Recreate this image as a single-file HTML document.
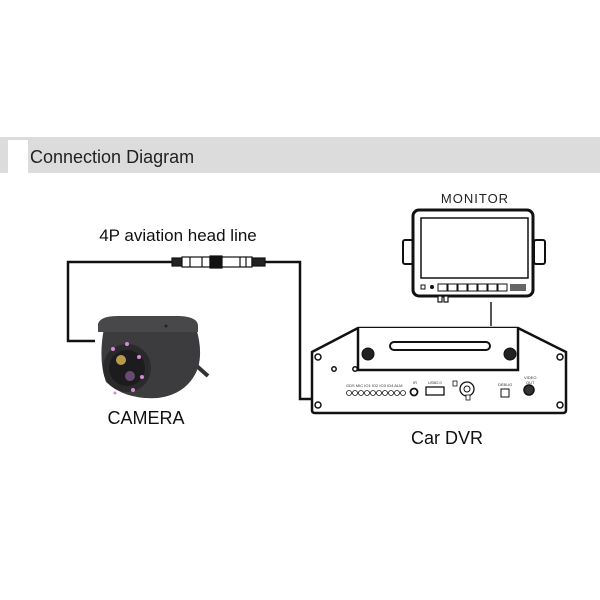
<!DOCTYPE html>
<html><head><style>
html,body{margin:0;padding:0;background:#fff;}
svg{display:block}
</style></head><body>
<svg width="600" height="600" viewBox="0 0 600 600" xmlns="http://www.w3.org/2000/svg" font-family="Liberation Sans, sans-serif">
<rect x="0" y="137" width="600" height="36" fill="#dcdcdc"/>
<rect x="8" y="140" width="20" height="36" fill="#fff"/>
<text x="30" y="163" font-size="18" fill="#222">Connection Diagram</text>

<text x="178" y="241" font-size="17" text-anchor="middle" fill="#111">4P aviation head line</text>
<text x="146" y="424" font-size="18" text-anchor="middle" fill="#111">CAMERA</text>
<text x="475" y="203" font-size="13" text-anchor="middle" fill="#222" letter-spacing="1">MONITOR</text>
<text x="447" y="444" font-size="18" text-anchor="middle" fill="#111">Car DVR</text>

<!-- cable -->
<g fill="none" stroke="#111" stroke-width="2.5">
<polyline points="95,341 68,341 68,262 172,262"/>
<polyline points="265,262 300,262 300,399 314,399"/>
</g>
<g stroke="#111" stroke-width="1.2" fill="#fff">
<rect x="172" y="258" width="10" height="8" fill="#222"/>
<rect x="182" y="257" width="28" height="10"/>
<line x1="190" y1="257" x2="190" y2="267"/><line x1="202" y1="257" x2="202" y2="267"/>
<rect x="210" y="256" width="12" height="12" fill="#111"/>
<rect x="222" y="257" width="30" height="10"/>
<line x1="240" y1="257" x2="240" y2="267"/><line x1="246" y1="257" x2="246" y2="267"/>
<rect x="252" y="258" width="13" height="8" fill="#222"/>
</g>

<!-- camera -->
<path d="M190,360 L208,376" stroke="#333" stroke-width="4"/>
<path d="M104,328 L196,328 Q203,350 198,368 Q188,394 158,398 Q125,400 106,382 Q98,360 104,328 Z" fill="#3c3c3e"/>
<path d="M98,324 Q100,316 118,316 L180,316 Q198,317 198,326 L198,332 L98,332 Z" fill="#48484a"/>
<circle cx="127" cy="368" r="24" fill="#2a2a2c"/>
<circle cx="127" cy="368" r="18" fill="#1c1c1e"/>
<circle cx="121" cy="360" r="5" fill="#b89a4a"/>
<circle cx="130" cy="376" r="5" fill="#6a4a70"/>
<g fill="#d58ad8"><circle cx="113" cy="349" r="2"/><circle cx="127" cy="344" r="2"/><circle cx="139" cy="357" r="2"/><circle cx="142" cy="377" r="2"/><circle cx="133" cy="390" r="2"/><circle cx="115" cy="393" r="1.5"/></g>
<circle cx="166" cy="326" r="1.5" fill="#222"/>

<!-- monitor -->
<g stroke="#111" fill="#fff">
<rect x="403" y="240" width="10" height="24" rx="2" stroke-width="2"/>
<rect x="534" y="240" width="11" height="24" rx="2" stroke-width="2"/>
<rect x="413" y="210" width="120" height="86" rx="6" stroke-width="3"/>
<rect x="421" y="218" width="107" height="60" stroke-width="1.5"/>
<rect x="438" y="296" width="4" height="6" stroke-width="1.2"/>
<rect x="444" y="296" width="4" height="6" stroke-width="1.2"/>
<g stroke-width="1"><rect x="421" y="285" width="4" height="4"/><circle cx="432" cy="287" r="1.5" fill="#111"/>
<rect x="438" y="284" width="9" height="7"/><rect x="448" y="284" width="9" height="7"/><rect x="458" y="284" width="9" height="7"/><rect x="468" y="284" width="9" height="7"/><rect x="478" y="284" width="9" height="7"/><rect x="488" y="284" width="9" height="7"/><rect x="498" y="284" width="9" height="7"/></g>
<rect x="510" y="284" width="16" height="7" fill="#666" stroke="none"/>
</g>
<line x1="491" y1="302" x2="491" y2="326" stroke="#555" stroke-width="2"/>

<!-- DVR -->
<g stroke="#111" fill="#fff">
<path d="M312,352 L358,328 L518,328 L566,352 L566,410 Q566,413 563,413 L315,413 Q312,413 312,410 Z" stroke-width="2.5"/>
<path d="M358,328 L358,370 L518,370 L518,328" stroke-width="2.5"/>
<rect x="390" y="342" width="100" height="8" rx="4" stroke-width="2"/>
<circle cx="368" cy="354" r="6" fill="#222"/>
<circle cx="510" cy="354" r="6" fill="#222"/>
<g stroke-width="1.5"><circle cx="318" cy="357" r="3"/><circle cx="560" cy="357" r="3"/><circle cx="318" cy="405" r="3"/><circle cx="560" cy="405" r="3"/>
<circle cx="334" cy="369" r="2.2"/><circle cx="355" cy="369" r="2.2"/></g>
<g stroke-width="0.8"><circle cx="349" cy="393" r="2.5"/><circle cx="355" cy="393" r="2.5"/><circle cx="361" cy="393" r="2.5"/><circle cx="367" cy="393" r="2.5"/><circle cx="373" cy="393" r="2.5"/><circle cx="379" cy="393" r="2.5"/><circle cx="385" cy="393" r="2.5"/><circle cx="391" cy="393" r="2.5"/><circle cx="397" cy="393" r="2.5"/><circle cx="403" cy="393" r="2.5"/></g>
<circle cx="414" cy="392" r="3.5" stroke-width="1.8"/>
<rect x="426" y="387" width="18" height="8" stroke-width="1.3"/>
<circle cx="467" cy="389" r="7" stroke-width="1.3"/><circle cx="467" cy="389" r="3" stroke-width="1"/>
<rect x="453" y="381" width="4" height="5" stroke-width="0.8"/><rect x="466" y="395" width="4" height="5" stroke-width="0.8"/>
<rect x="501" y="389" width="8" height="8" stroke-width="1"/>
<circle cx="529" cy="390" r="5" fill="#333" stroke-width="1.5"/>
</g>
<g font-size="4" fill="#333"><text x="346" y="387">GDS MIC IO1 IO2 IO3 IO4 ALM</text><text x="413" y="384">IR</text><text x="428" y="384">USB2.0</text><text x="498" y="386">DEBUG</text><text x="524" y="379">VIDEO</text><text x="526" y="384">OUT</text></g>
</svg>
</body></html>
